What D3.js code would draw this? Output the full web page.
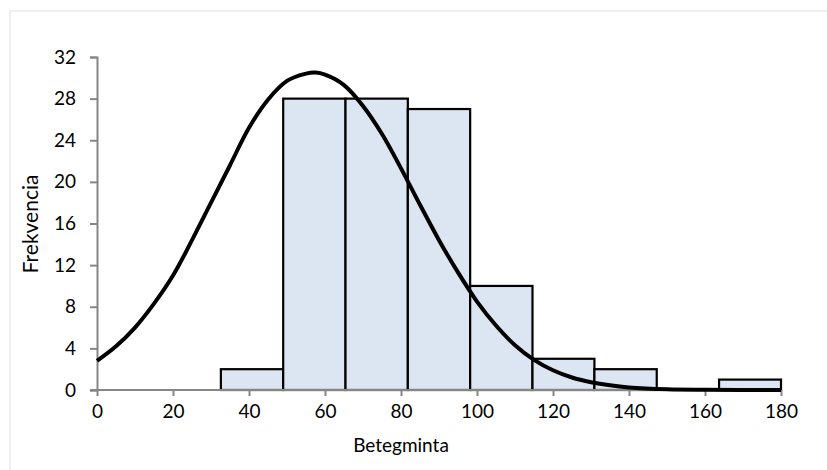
<!DOCTYPE html>
<html>
<head>
<meta charset="utf-8">
<script src="https://cdn.jsdelivr.net/npm/d3@7"></script>
<style>
  body { margin: 0; background: #fff; }
  svg text { font-family: Lato, "Open Sans", sans-serif; fill: #000; }
</style>
</head>
<body>
<svg id="chart"></svg>
<script>
// histogram bins (lower edges) and counts
var binStart = [32.6, 49.0, 65.4, 81.8, 98.2, 114.6, 130.9, 147.3, 163.7];
var binEnd   = [49.0, 65.4, 81.8, 98.2, 114.6, 130.9, 147.3, 163.7, 180];
var counts   = [2, 28, 28, 27, 10, 3, 2, 0, 1];

// fitted normal curve
var curveX = [0, 5, 10, 15, 20, 25, 30, 35, 40, 45, 50, 55, 57.5, 60, 65, 70, 75, 80, 85, 90, 95, 100, 105, 110, 115, 120, 125, 130, 135, 140, 150, 160, 170, 180];
var curveY = [2.8, 4.2, 6.0, 8.3, 11.0, 14.4, 18.0, 21.6, 25.2, 27.9, 29.7, 30.4, 30.5, 30.3, 29.3, 27.3, 24.6, 21.3, 17.8, 14.4, 11.3, 8.5, 6.2, 4.3, 2.9, 1.9, 1.2, 0.75, 0.45, 0.25, 0.07, 0.02, 0.0, 0.0];

var xTicks = [0, 20, 40, 60, 80, 100, 120, 140, 160, 180];
var yTicks = [0, 4, 8, 12, 16, 20, 24, 28, 32];

var width = 827, height = 470;
var margin = {left: 97, right: 46, top: 57, bottom: 80};

var svg = d3.select("#chart").attr("width", width).attr("height", height);

// outer frame
svg.append("rect")
  .attr("x", 10).attr("y", 11)
  .attr("width", 840).attr("height", 480)
  .attr("fill", "none").attr("stroke", "#efefef").attr("stroke-width", 2);

var x = d3.scaleLinear().domain([0, 180]).range([margin.left, width - margin.right]);
var y = d3.scaleLinear().domain([0, 32]).range([height - margin.bottom, margin.top]);

// bars
var bins = counts.map(function(c, i) { return {x0: binStart[i], x1: binEnd[i], n: c}; });
svg.append("g").selectAll("rect")
  .data(bins.filter(function(d) { return d.n > 0; }))
  .enter().append("rect")
  .attr("x", function(d) { return x(d.x0); })
  .attr("y", function(d) { return y(d.n); })
  .attr("width", function(d) { return x(d.x1) - x(d.x0); })
  .attr("height", function(d) { return y(0) - y(d.n); })
  .attr("fill", "#dce6f2")
  .attr("stroke", "#000")
  .attr("stroke-width", 2.2);

// axes
var xAxis = d3.axisBottom(x).tickValues(xTicks).tickSizeOuter(0).tickSize(6).tickPadding(9);
var yAxis = d3.axisLeft(y).tickValues(yTicks).tickSizeOuter(0).tickSize(7).tickPadding(14);

var gx = svg.append("g").attr("transform", "translate(0," + y(0) + ")").call(xAxis);
var gy = svg.append("g").attr("transform", "translate(" + x(0) + ",0)").call(yAxis);

[gx, gy].forEach(function(g) {
  g.attr("font-size", null).attr("font-family", null);
  g.select(".domain").attr("stroke", "#868686").attr("stroke-width", 2);
  g.selectAll(".tick line").attr("stroke", "#868686").attr("stroke-width", 2);
  g.selectAll(".tick text").style("font-size", "19px").attr("fill", "#000");
});
gx.select(".domain").attr("d", "M" + (x(0) - 7) + ",0H" + x(180));

// normal curve
var line = d3.line()
  .x(function(d, i) { return x(curveX[i]); })
  .y(function(d) { return y(d); })
  .curve(d3.curveCatmullRom);

svg.append("path")
  .datum(curveY)
  .attr("d", line)
  .attr("fill", "none")
  .attr("stroke", "#000")
  .attr("stroke-width", 4);

// axis titles
svg.append("text")
  .attr("x", 401).attr("y", 452)
  .attr("text-anchor", "middle")
  .style("font-size", "19px")
  .text("Betegminta");

svg.append("text")
  .attr("transform", "translate(38," + 224 + ")rotate(-90)")
  .attr("text-anchor", "middle")
  .style("font-size", "21px")
  .text("Frekvencia");
</script>
</body>
</html>
